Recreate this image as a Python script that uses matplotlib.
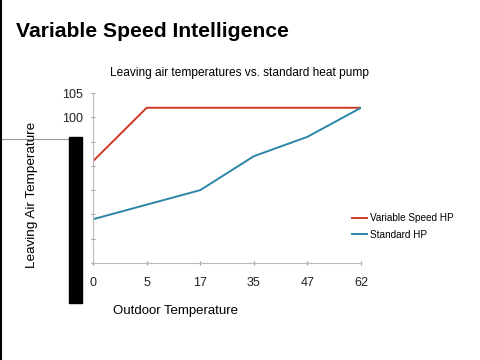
import matplotlib.pyplot as plt
from matplotlib.lines import Line2D
from matplotlib.patches import Rectangle

plt.rcParams['font.family'] = ['Liberation Sans', 'DejaVu Sans']

# Data #
outdoor = ["0", "5", "17", "35", "47", "62"]
variable_speed = [91, 102, 102, 102, 102, 102]
standard_hp = [79, 82, 85, 92, 96, 102]
y_ticks = [70, 75, 80, 85, 90, 95, 100, 105]
y_labels = ["", "", "", "", "", "", "100", "105"]

fig = plt.figure(figsize=(4.8, 3.6), dpi=100)
fig.patch.set_facecolor("white")

ax = fig.add_axes([0.194, 0.270, 0.558, 0.471])
x = list(range(len(outdoor)))
ax.plot(x, variable_speed, color="#cc3a22", lw=1.4, label="Variable Speed HP")
ax.plot(x, standard_hp, color="#2b86a8", lw=1.4, label="Standard HP")

ax.set_xlim(0, len(outdoor) - 1)
ax.set_ylim(70, 105)
ax.set_xticks(x)
ax.set_xticklabels(outdoor)
ax.set_yticks(y_ticks)
ax.set_yticklabels(y_labels)
ax.tick_params(axis="both", labelsize=9, colors="#999999", labelcolor="#222222",
               length=3, direction="inout")
ax.tick_params(axis="x", pad=9)
ax.tick_params(axis="y", pad=6)
for side in ["top", "right"]:
    ax.spines[side].set_visible(False)
for side in ["left", "bottom"]:
    ax.spines[side].set_color("#bbbbbb")
ax.set_facecolor("white")

# Chart title, centred on the slide #
fig.text(0.5, 0.797, "Leaving air temperatures vs. standard heat pump", fontsize=8.6,
         ha="center", va="center")

fig.text(0.365, 0.136, "Outdoor Temperature", fontsize=9.5, ha="center", va="center")
fig.text(0.067, 0.458, "Leaving Air Temperature", rotation=90, fontsize=9.7,
         ha="center", va="center")

ax.legend(loc="center left", bbox_to_anchor=(0.945, 0.215), frameon=False,
          fontsize=7.2, handlelength=1.5, handletextpad=0.3, labelspacing=0.65,
          borderaxespad=0.2)

# Slide title #
fig.text(0.033, 0.913, "Variable Speed Intelligence", fontsize=15.2, fontweight="bold",
         ha="left", va="center")

# Overlay artefacts from the screenshot #
fig.add_artist(Rectangle((0.144, 0.158), 0.027, 0.462, transform=fig.transFigure,
                         color="black", zorder=10))
fig.add_artist(Line2D([0, 0.144], [0.614, 0.614], transform=fig.transFigure,
                      color="#999999", lw=0.8))
fig.add_artist(Line2D([0.002, 0.002], [0, 1], transform=fig.transFigure,
                      color="black", lw=1.5))

fig.savefig("out.png", dpi=100)
